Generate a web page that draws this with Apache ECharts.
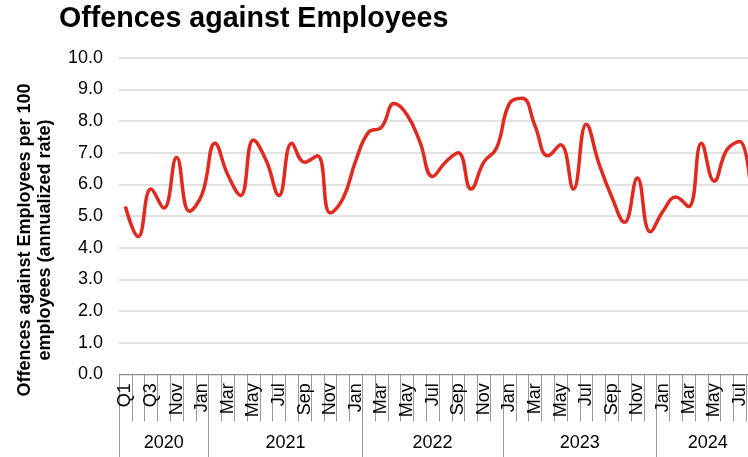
<!DOCTYPE html>
<html>
<head>
<meta charset="utf-8">
<script src="https://cdn.jsdelivr.net/npm/echarts@6/dist/echarts.min.js"></script>
<style>
  html, body { margin: 0; padding: 0; background: #fff; }
  #chart { width: 748px; height: 457px; }
</style>
</head>
<body>
<div id="chart"></div>
<script>
// Period labels, grouped by year as on the axis
const years = ['2020', '2021', '2022', '2023', '2024'];
const yearCounts = [7, 12, 11, 12, 8];
const periods = [
  'Q1', 'Q2', 'Q3', 'Oct', 'Nov', 'Dec', 'Jan',
  'Feb', 'Mar', 'Apr', 'May', 'Jun', 'Jul', 'Aug', 'Sep', 'Oct', 'Nov', 'Dec', 'Jan',
  'Feb', 'Mar', 'Apr', 'May', 'Jun', 'Jul', 'Aug', 'Sep', 'Oct', 'Nov', 'Dec',
  'Jan', 'Feb', 'Mar', 'Apr', 'May', 'Jun', 'Jul', 'Aug', 'Sep', 'Oct', 'Nov', 'Dec',
  'Jan', 'Feb', 'Mar', 'Apr', 'May', 'Jun', 'Jul', 'Aug'
];
// Offences per 100 employees (annualized rate)
const rates = [
  5.3, 4.35, 5.85, 5.25, 6.85, 5.15, 5.7,
  7.3, 6.3, 5.65, 7.4, 6.75, 5.65, 7.3, 6.7, 6.9, 5.1, 5.55, 6.75,
  7.65, 7.8, 8.55, 8.2, 7.35, 6.25, 6.7, 7.0, 5.85, 6.7, 7.15,
  8.55, 8.72, 7.85, 6.9, 7.25, 5.85, 7.9, 6.65, 5.6, 4.8, 6.2, 4.5,
  5.15, 5.6, 5.3, 7.3, 6.1, 7.1, 7.35, 4.9
];
const yTicks = [0, 1, 2, 3, 4, 5, 6, 7, 8, 9, 10];

// Group boundaries and group centres on a 0..N scale for the year row
const yearEdges = [0];
yearCounts.forEach(c => yearEdges.push(yearEdges[yearEdges.length - 1] + c));
const yearCenters = yearCounts.map((c, i) => yearEdges[i] + c / 2);

const FONT = 'Liberation Sans, Arial, sans-serif';
const chart = echarts.init(document.getElementById('chart'), null, { renderer: 'canvas' });

chart.setOption({
  backgroundColor: '#ffffff',
  animation: false,
  title: {
    text: 'Offences against Employees',
    left: 59,
    top: 5,
    padding: 0,
    textStyle: { fontFamily: FONT, fontSize: 28.6, fontWeight: 'bold', color: '#000' }
  },
  // the plot runs a little past the right edge of the page
  grid: {
    left: 119, width: 640, top: 57.7, bottom: 82.7,
    containLabel: false, outerBoundsMode: 'none'
  },
  xAxis: [
    {
      type: 'category',
      data: periods,
      boundaryGap: true,
      axisLine: { show: true, lineStyle: { color: '#8c8c8c', width: 1 } },
      axisTick: { show: true, interval: 0, length: 47, lineStyle: { color: '#9a9a9a', width: 1 } },
      axisLabel: {
        interval: 1, rotate: 90, margin: 9,
        fontFamily: FONT, fontSize: 18, color: '#000'
      },
      splitLine: { show: false }
    },
    {
      type: 'value',
      position: 'bottom',
      min: 0,
      max: periods.length,
      axisLine: { show: false },
      axisTick: {
        show: true, length: 84, customValues: yearEdges,
        lineStyle: { color: '#9a9a9a', width: 1 }
      },
      axisLabel: {
        customValues: yearCenters,
        formatter: v => years[yearCenters.indexOf(v)] || '',
        margin: 60,
        fontFamily: FONT, fontSize: 18, color: '#000'
      },
      splitLine: { show: false }
    }
  ],
  yAxis: {
    type: 'value',
    min: yTicks[0],
    max: yTicks[yTicks.length - 1],
    interval: 1,
    name: 'Offences against Employees per 100\nemployees (annualized rate)',
    nameLocation: 'middle',
    nameRotate: 90,
    nameGap: 64,
    nameTextStyle: {
      fontFamily: FONT, fontSize: 18, fontWeight: 'bold', color: '#000',
      lineHeight: 20, padding: [0, 48, 0, 0]
    },
    axisLine: { show: false },
    axisTick: { show: false },
    axisLabel: {
      margin: 16, fontFamily: FONT, fontSize: 18, color: '#000',
      formatter: v => v.toFixed(1)
    },
    splitLine: { show: true, lineStyle: { color: '#d9d9d9', width: 1.5 } }
  },
  series: [{
    type: 'line',
    data: rates,
    xAxisIndex: 0,
    smooth: 0.45,
    showSymbol: false,
    clip: false,
    lineStyle: { color: '#df2a1f', width: 3.5 },
    itemStyle: { color: '#df2a1f' }
  }]
});
</script>
</body>
</html>
